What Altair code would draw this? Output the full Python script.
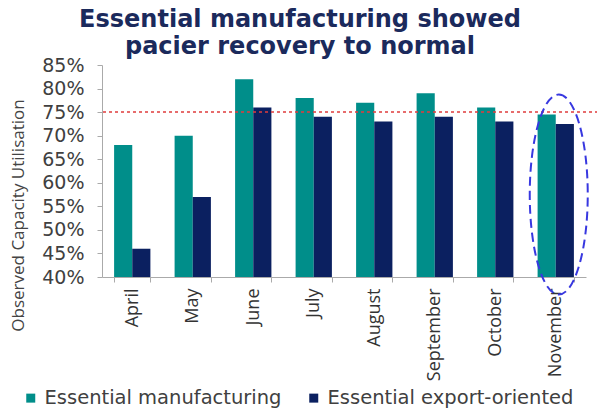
import altair as alt
import pandas as pd

months = ["April", "May", "June", "July", "August", "September", "October", "November"]
essential_manufacturing = [68, 70, 82, 78, 77, 79, 76, 74.5]
essential_export = [46, 57, 76, 74, 73, 74, 73, 72.5]
series = ["Essential manufacturing", "Essential export-oriented"]
normal_level = [75]
y_ticks = [40, 45, 50, 55, 60, 65, 70, 75, 80, 85]
y_floor = 40

rows = []
for m, a, b in zip(months, essential_manufacturing, essential_export):
    rows.append({"month": m, "series": series[0], "value": a})
    rows.append({"month": m, "series": series[1], "value": b})
df = pd.DataFrame(rows)

W, H = 484, 212
teal = "#008e8a"
navy = "#0b2060"

x_scale = alt.Scale(domain=months, paddingInner=0.4, paddingOuter=0.2)
y_scale = alt.Scale(domain=[40, 85], nice=False, zero=False)

x_axis = alt.Axis(title=None, labelAngle=-90, labelFont="Open Sans",
                  labelFontSize=18, labelColor="#333333", labelPadding=6,
                  tickColor="#aaaaaa", domainColor="#aaaaaa", tickSize=5,
                  tickBand="extent", labelBaseline="middle", labelAlign="right",
                  labelOverlap=False, labelLimit=200)
y_axis = alt.Axis(title="Observed Capacity Utilisation", values=y_ticks,
                  labelExpr="datum.value + '%'", labelFont="DejaVu Sans",
                  labelFontSize=19, labelColor="#404040", grid=False,
                  labelOverlap=False, labelPadding=13, labelSeparation=0,
                  tickColor="#aaaaaa", domainColor="#aaaaaa", tickSize=5,
                  titleFont="Open Sans", titleFontSize=17, titleFontWeight="normal",
                  titleColor="#444444", titleX=-84, titleY=150, titleAngle=-90,
                  titleAlign="center", titleBaseline="middle")

bars = alt.Chart(df).mark_bar().encode(
    x=alt.X("month:N", sort=months, scale=x_scale, axis=x_axis),
    xOffset=alt.XOffset("series:N", sort=series, scale=alt.Scale(paddingInner=0, paddingOuter=0)),
    y=alt.Y("value:Q", scale=y_scale, axis=y_axis),
    y2=alt.datum(y_floor),
    color=alt.Color("series:N", sort=series,
                    scale=alt.Scale(domain=series, range=[teal, navy]),
                    legend=alt.Legend(title=None, orient="none", legendX=-81, legendY=323,
                                      direction="horizontal", symbolType="square",
                                      symbolSize=81, symbolStrokeWidth=0,
                                      labelFont="DejaVu Sans", labelFontSize=19.5,
                                      labelColor="#404040", columnPadding=22,
                                      labelOffset=4, labelLimit=400)),
)

rule_df = pd.DataFrame({"level": normal_level})
rule = alt.Chart(rule_df).mark_rule(color="#e03c3c", strokeDash=[3, 3], strokeWidth=1.5).encode(
    y=alt.Y("level:Q", scale=y_scale, axis=y_axis),
    x=alt.value(1),
    x2=alt.value(W + 11),
)

ell_df = pd.DataFrame({"month": ["November"], "level": [57.5]})
ellipse_path = ("M 0 -1 C 0.16 -1 0.29 -0.55 0.29 0 C 0.29 0.55 0.16 1 0 1 "
                "C -0.16 1 -0.29 0.55 -0.29 0 C -0.29 -0.55 -0.16 -1 0 -1 Z")
ellipse = alt.Chart(ell_df).mark_point(shape=ellipse_path, filled=False, size=40000,
                                       stroke="#3838e0", strokeWidth=2,
                                       strokeDash=[9, 5], opacity=1, xOffset=3).encode(
    x=alt.X("month:N", sort=months, scale=x_scale, axis=x_axis),
    y=alt.Y("level:Q", scale=y_scale, axis=y_axis),
)

chart = alt.layer(bars, rule, ellipse).properties(
    width=W, height=H,
    autosize=alt.AutoSizeParams(type="none"),
    padding={"left": 102, "top": 65, "right": 13, "bottom": 132},
    title=alt.TitleParams(["Essential manufacturing showed", "pacier recovery to normal"],
                          font="DejaVu Sans", fontSize=24, fontWeight="bold",
                          color="#1b2a5c", anchor="middle", dx=-44, offset=-3,
                          lineHeight=27),
).configure_view(stroke=None)

chart.save("out.html", embed_options={"renderer": "svg", "actions": False})
